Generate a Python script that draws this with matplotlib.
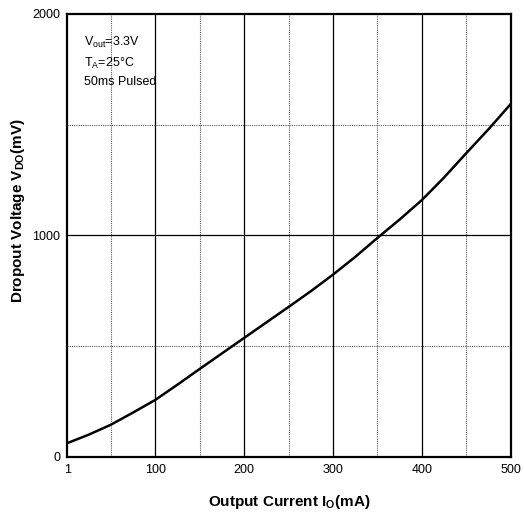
import matplotlib
matplotlib.use('Agg')
import matplotlib.pyplot as plt

# values
current_ma = [1, 25, 50, 75, 100, 125, 150, 175, 200, 225, 250, 275, 300,
              325, 350, 375, 400, 425, 450, 475, 500]
dropout_mv = [62, 100, 145, 200, 257, 326, 397, 467, 537, 607, 677, 748, 823,
              903, 989, 1072, 1160, 1262, 1372, 1480, 1594]

x_solid = [100, 200, 300, 400]
x_dotted = [50, 150, 250, 350, 450]
y_solid = [1000]
y_dotted = [500, 1500]
x_ticks = [1, 100, 200, 300, 400, 500]
y_ticks = [0, 1000, 2000]

plt.rcParams['font.family'] = ['Liberation Sans', 'DejaVu Sans']
plt.rcParams['mathtext.fontset'] = 'custom'
plt.rcParams['mathtext.rm'] = 'Liberation Sans'
plt.rcParams['mathtext.it'] = 'Liberation Sans'
plt.rcParams['mathtext.bf'] = 'Liberation Sans:bold'

fig = plt.figure(figsize=(5.24, 5.14), dpi=100)
ax = fig.add_axes([0.128, 0.111, 0.847, 0.862])

for xv in x_solid:
    ax.axvline(xv, color='black', lw=0.9, zorder=1)
for xv in x_dotted:
    ax.axvline(xv, color='#555555', lw=0.8, ls=(0, (1, 1)), zorder=1)
for yv in y_solid:
    ax.axhline(yv, color='black', lw=0.9, zorder=1)
for yv in y_dotted:
    ax.axhline(yv, color='#555555', lw=0.8, ls=(0, (1, 1)), zorder=1)

ax.plot(current_ma, dropout_mv, color='black', lw=1.8, zorder=3,
        solid_joinstyle='round')

ax.set_xlim(1, 500)
ax.set_ylim(0, 2000)
ax.set_xticks(x_ticks)
ax.set_yticks(y_ticks)
ax.tick_params(length=0, labelsize=9, pad=5)
for s in ax.spines.values():
    s.set_linewidth(1.6)

ax.set_xlabel(r'Output Current I$_\mathbf{O}$(mA)', fontsize=11, fontweight='bold')
ax.set_ylabel(r'Dropout Voltage V$_\mathbf{DO}$(mV)', fontsize=11, fontweight='bold')
ax.xaxis.set_label_coords(0.5, -0.102)
ax.yaxis.set_label_coords(-0.11, 0.555)
ax.xaxis.label.set_va('center')
ax.yaxis.label.set_va('center')

ax.text(0.038, 0.935, r'V$_{out}$=3.3V', transform=ax.transAxes, fontsize=9, va='center')
ax.text(0.038, 0.889, r'T$_A$=25°C', transform=ax.transAxes, fontsize=9, va='center')
ax.text(0.038, 0.847, '50ms Pulsed', transform=ax.transAxes, fontsize=9, va='center')

fig.savefig('out.png', dpi=100)
